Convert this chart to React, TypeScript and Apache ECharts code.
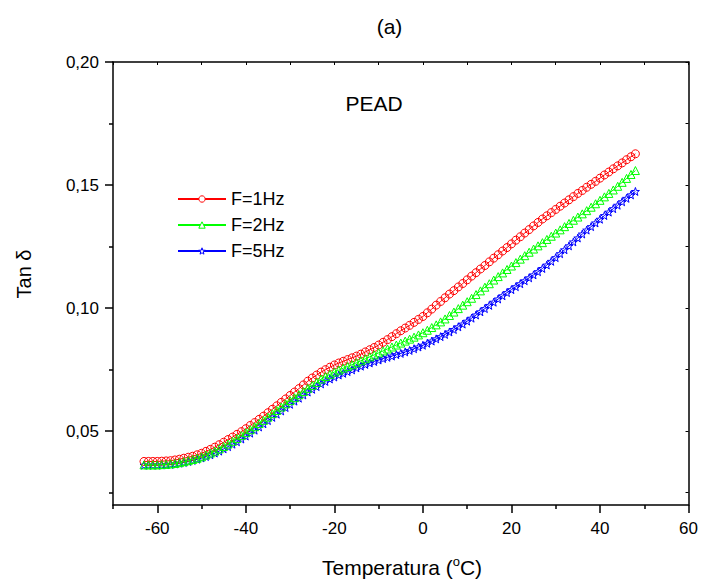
import React, { useEffect, useRef } from "react";
import * as echarts from "echarts";

const FONT = "'Liberation Sans', Arial, sans-serif";

const temps = [
  -63, -62, -61, -60, -59, -58, -57, -56, -55, -54, -53, -52, -51, -50, -49, -48,
  -47, -46, -45, -44, -43, -42, -41, -40, -39, -38, -37, -36, -35, -34, -33, -32,
  -31, -30, -29, -28, -27, -26, -25, -24, -23, -22, -21, -20, -19, -18, -17, -16,
  -15, -14, -13, -12, -11, -10, -9, -8, -7, -6, -5, -4, -3, -2, -1, 0,
  1, 2, 3, 4, 5, 6, 7, 8, 9, 10, 11, 12, 13, 14, 15, 16,
  17, 18, 19, 20, 21, 22, 23, 24, 25, 26, 27, 28, 29, 30, 31, 32,
  33, 34, 35, 36, 37, 38, 39, 40, 41, 42, 43, 44, 45, 46, 47, 48,
];

const f1Hz = [
  0.0377, 0.0377, 0.0377, 0.0377, 0.0378, 0.0379, 0.038, 0.0383, 0.0386, 0.039, 0.0394, 0.0398, 0.0404, 0.041, 0.0418, 0.0426,
  0.0435, 0.0445, 0.0455, 0.0466, 0.0476, 0.0487, 0.0498, 0.051, 0.0523, 0.0535, 0.0548, 0.0561, 0.0575, 0.0589, 0.0603, 0.0617,
  0.0631, 0.0645, 0.0659, 0.0673, 0.0688, 0.0703, 0.0716, 0.0728, 0.074, 0.075, 0.076, 0.0769, 0.0777, 0.0784, 0.0791, 0.0798,
  0.0805, 0.0813, 0.0822, 0.0831, 0.084, 0.085, 0.0861, 0.0872, 0.0884, 0.0896, 0.0908, 0.0919, 0.093, 0.0942, 0.0954, 0.0966,
  0.0981, 0.0996, 0.1012, 0.1027, 0.1042, 0.1057, 0.1071, 0.1086, 0.11, 0.1115, 0.113, 0.1144, 0.1159, 0.1173, 0.1188, 0.1203,
  0.1217, 0.1232, 0.1246, 0.1261, 0.1276, 0.129, 0.1305, 0.1319, 0.1334, 0.1348, 0.1362, 0.1375, 0.1388, 0.1401, 0.1414, 0.1427,
  0.144, 0.1453, 0.1466, 0.1478, 0.1491, 0.1503, 0.1515, 0.1528, 0.1541, 0.1553, 0.1566, 0.1578, 0.159, 0.1603, 0.1615, 0.1627,
];

const f2Hz = [
  0.0363, 0.0363, 0.0363, 0.0363, 0.0364, 0.0365, 0.0367, 0.0369, 0.0372, 0.0376, 0.038, 0.0385, 0.039, 0.0396, 0.0403, 0.0411,
  0.0419, 0.0428, 0.0438, 0.0448, 0.0459, 0.047, 0.0482, 0.0494, 0.0506, 0.0518, 0.0531, 0.0544, 0.0557, 0.0571, 0.0584, 0.0598,
  0.0611, 0.0624, 0.0636, 0.0648, 0.0661, 0.0674, 0.0686, 0.0698, 0.0712, 0.0722, 0.0731, 0.074, 0.0748, 0.0756, 0.0763, 0.077,
  0.0778, 0.0786, 0.0794, 0.0802, 0.081, 0.0818, 0.0826, 0.0834, 0.0842, 0.085, 0.0858, 0.0866, 0.0874, 0.0882, 0.0891, 0.09,
  0.091, 0.0921, 0.0932, 0.0944, 0.0956, 0.097, 0.0984, 0.0998, 0.1012, 0.1026, 0.104, 0.1055, 0.107, 0.1085, 0.1099, 0.1114,
  0.1128, 0.1143, 0.1157, 0.1171, 0.1185, 0.1199, 0.1213, 0.1227, 0.124, 0.1253, 0.1266, 0.1279, 0.1292, 0.1305, 0.1318, 0.1331,
  0.1344, 0.1357, 0.137, 0.1383, 0.1396, 0.141, 0.1424, 0.1438, 0.1452, 0.1466, 0.148, 0.1495, 0.1511, 0.1527, 0.1543, 0.1559,
];

const f5Hz = [
  0.0362, 0.0362, 0.0362, 0.0362, 0.0363, 0.0364, 0.0365, 0.0367, 0.037, 0.0373, 0.0377, 0.0381, 0.0386, 0.0391, 0.0397, 0.0404,
  0.0411, 0.0419, 0.0428, 0.0437, 0.0447, 0.0457, 0.0468, 0.048, 0.0492, 0.0504, 0.0517, 0.053, 0.0543, 0.0556, 0.0569, 0.0582,
  0.0596, 0.0609, 0.0622, 0.0634, 0.0647, 0.0659, 0.067, 0.0681, 0.0692, 0.0702, 0.0712, 0.072, 0.0728, 0.0735, 0.0742, 0.0749,
  0.0757, 0.0764, 0.0771, 0.0777, 0.0783, 0.0789, 0.0795, 0.08, 0.0805, 0.0811, 0.0816, 0.0822, 0.0828, 0.0835, 0.0842, 0.0849,
  0.0857, 0.0866, 0.0875, 0.0884, 0.0893, 0.0903, 0.0913, 0.0924, 0.0935, 0.0947, 0.0959, 0.0972, 0.0985, 0.0998, 0.1011, 0.1024,
  0.1037, 0.105, 0.1063, 0.1075, 0.1087, 0.1099, 0.1111, 0.1123, 0.1135, 0.1148, 0.1161, 0.1175, 0.119, 0.1205, 0.1221, 0.1237,
  0.1253, 0.1269, 0.1285, 0.1301, 0.1317, 0.1331, 0.1346, 0.1361, 0.1376, 0.139, 0.1404, 0.1418, 0.1432, 0.1446, 0.146, 0.1474,
];

const seriesNames = ["F=1Hz", "F=2Hz", "F=5Hz"];
const xMajorTicks = [-60, -40, -20, 0, 20, 40, 60];
const xMinorTicks = [-70, -50, -30, -10, 10, 30, 50];
const xTopTicks = [-70, -60, -50, -40, -30, -20, -10, 0, 10, 20, 30, 40, 50, 60];
const yMajorTicks = [0.05, 0.1, 0.15, 0.2];
const yMinorTicks = [0.025, 0.075, 0.125, 0.175];
const yRightTicks = [0.025, 0.05, 0.075, 0.1, 0.125, 0.15, 0.175, 0.2];

const STAR =
  "path://M0,-10 L2.35,-3.24 L9.51,-3.09 L3.8,1.24 L5.88,8.09 L0,4 L-5.88,8.09 L-3.8,1.24 L-9.51,-3.09 L-2.35,-3.24 Z";

export default function App() {
  const ref = useRef<HTMLDivElement>(null);

  useEffect(() => {
    if (!ref.current) return;
    const chart = echarts.init(ref.current, null, { renderer: "svg" });
    const axisLine = { show: true, onZero: false, lineStyle: { color: "#000", width: 1.5 } };
    const noLine = { show: false, onZero: false };
    const tickLine = { color: "#000", width: 1.5 };
    const pair = (vals: number[]) => temps.map((t, i) => [t, vals[i]]);

    const mk = (
      name: string,
      vals: number[],
      color: string,
      symbol: string,
      size: number,
      z: number
    ) => ({
      name,
      type: "line",
      data: pair(vals),
      xAxisIndex: 0,
      yAxisIndex: 0,
      symbol,
      symbolSize: size,
      showAllSymbol: true,
      z,
      lineStyle: { color, width: 1 },
      itemStyle: { color: "rgba(255,255,255,0)", borderColor: color, borderWidth: 1 },
      emphasis: { disabled: true },
    });

    chart.setOption({
      animation: false,
      backgroundColor: "#fff",
      textStyle: { fontFamily: FONT },
      grid: { left: 113, right: 10, top: 62, bottom: 75 },
      legend: {
        orient: "vertical",
        left: 172,
        top: 185,
        itemWidth: 48,
        itemHeight: 8,
        itemGap: 8,
        data: seriesNames,
        itemStyle: { color: "#fff", borderWidth: 1 },
        textStyle: { fontSize: 18, color: "#000", fontFamily: FONT },
      },
      xAxis: [
        {
          type: "value",
          position: "bottom",
          min: -70,
          max: 60,
          axisLine,
          axisTick: { show: true, length: 8, customValues: xMajorTicks, lineStyle: tickLine },
          axisLabel: { customValues: xMajorTicks, margin: 15, fontSize: 17, color: "#000", fontFamily: FONT },
          splitLine: { show: false },
        },
        {
          type: "value",
          position: "bottom",
          min: -70,
          max: 60,
          axisLine: noLine,
          axisTick: { show: true, length: 4, customValues: xMinorTicks, lineStyle: tickLine },
          axisLabel: { show: false },
          splitLine: { show: false },
        },
        {
          type: "value",
          position: "top",
          min: -70,
          max: 60,
          axisLine,
          axisTick: { show: true, inside: true, length: 3, customValues: xTopTicks, lineStyle: { color: "#000", width: 1 } },
          axisLabel: { show: false },
          splitLine: { show: false },
        },
      ],
      yAxis: [
        {
          type: "value",
          position: "left",
          min: 0.02,
          max: 0.2,
          axisLine,
          axisTick: { show: true, length: 8, customValues: yMajorTicks, lineStyle: tickLine },
          axisLabel: {
            customValues: yMajorTicks,
            margin: 14,
            fontSize: 17,
            color: "#000",
            fontFamily: FONT,
            formatter: (v: number) => v.toFixed(2).replace(".", ","),
          },
          splitLine: { show: false },
        },
        {
          type: "value",
          position: "left",
          min: 0.02,
          max: 0.2,
          axisLine: noLine,
          axisTick: { show: true, length: 4, customValues: yMinorTicks, lineStyle: tickLine },
          axisLabel: { show: false },
          splitLine: { show: false },
        },
        {
          type: "value",
          position: "right",
          min: 0.02,
          max: 0.2,
          axisLine,
          axisTick: { show: true, inside: true, length: 3, customValues: yRightTicks, lineStyle: { color: "#000", width: 1 } },
          axisLabel: { show: false },
          splitLine: { show: false },
        },
      ],
      graphic: [
        {
          type: "text",
          x: 389.5,
          y: 26.5,
          style: { text: "(a)", fontSize: 21, fontFamily: FONT, fill: "#000", align: "center", verticalAlign: "middle" },
        },
        {
          type: "text",
          x: 374,
          y: 103,
          style: { text: "PEAD", fontSize: 21, fontFamily: FONT, fill: "#000", align: "center", verticalAlign: "middle" },
        },
        {
          type: "text",
          x: 24,
          y: 274,
          rotation: Math.PI / 2,
          style: { text: "Tan δ", fontSize: 20, fontFamily: FONT, fill: "#000", align: "center", verticalAlign: "middle" },
        },
        {
          type: "text",
          x: 402,
          y: 567,
          style: {
            text: "{a|Temperatura (}{s|o}{a|C)}",
            fontFamily: FONT,
            fill: "#000",
            align: "center",
            verticalAlign: "middle",
            rich: {
              a: { fontSize: 21, fontFamily: FONT, fill: "#000", lineHeight: 24 },
              s: { fontSize: 13, fontFamily: FONT, fill: "#000", lineHeight: 13, verticalAlign: "top" },
            },
          },
        },
      ],
      series: [
        mk(seriesNames[0], f1Hz, "#ff0000", "circle", 8, 3),
        mk(seriesNames[1], f2Hz, "#00ff00", "triangle", 8, 4),
        mk(seriesNames[2], f5Hz, "#0000ff", STAR, 8, 2),
      ],
    });

    return () => chart.dispose();
  }, []);

  return (
    <div
      ref={ref}
      style={{ position: "fixed", left: 0, top: 0, width: 701, height: 580, background: "#fff" }}
    />
  );
}
